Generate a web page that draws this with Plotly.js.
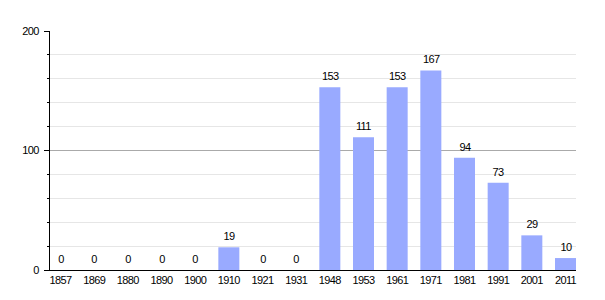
<!DOCTYPE html>
<html>
<head>
<meta charset="utf-8">
<script src="https://cdn.plot.ly/plotly-3.0.1.min.js"></script>
<style>html,body{margin:0;padding:0;background:#fff}#chart{width:605px;height:300px}
#chart svg text{letter-spacing:-0.6px}</style>
</head>
<body>
<div id="chart"></div>
<script>
const years = ["1857","1869","1880","1890","1900","1910","1921","1931","1948","1953","1961","1971","1981","1991","2001","2011"];
const population = [0,0,0,0,0,19,0,0,153,111,153,167,94,73,29,10];
const yTicks = [0,100,200];

const labels = years.map((yr, i) => ({
  x: i, y: population[i], xref: 'x', yref: 'y',
  text: String(population[i]), showarrow: false,
  yanchor: 'bottom', yshift: 3,
  font: {family: 'Liberation Sans, Arial, sans-serif', size: 11, color: '#000'}
}));

Plotly.newPlot('chart', [{
  type: 'bar',
  x: years,
  y: population,
  marker: {color: '#99aaff'},
  hoverinfo: 'none'
}], {
  width: 605, height: 300,
  margin: {l: 50, r: 29, t: 31, b: 30},
  paper_bgcolor: '#fff', plot_bgcolor: '#fff',
  bargap: 0.376,
  showlegend: false,
  annotations: labels,
  font: {family: 'Liberation Sans, Arial, sans-serif', size: 11, color: '#000'},
  xaxis: {
    type: 'category',
    range: [-0.312, 15.312],
    showline: true, linecolor: '#000', linewidth: 1,
    showgrid: false, zeroline: false,
    ticks: '', ticklen: 0,
    tickfont: {size: 11},
    fixedrange: true
  },
  yaxis: {
    range: [0, 200],
    tickvals: yTicks,
    ticktext: yTicks.map(String),
    showline: true, linecolor: '#000', linewidth: 1,
    ticks: 'outside', ticklen: 5, tickcolor: '#000',
    showgrid: true, gridcolor: '#aaaaaa', gridwidth: 1,
    zeroline: false,
    ticklabelstandoff: 3,
    minor: {dtick: 20, tick0: 0, showgrid: true, gridcolor: '#e6e6e6', ticks: 'outside', ticklen: 2, tickcolor: '#000'},
    tickfont: {size: 11},
    fixedrange: true
  }
}, {displayModeBar: false, staticPlot: true});
</script>
</body>
</html>
